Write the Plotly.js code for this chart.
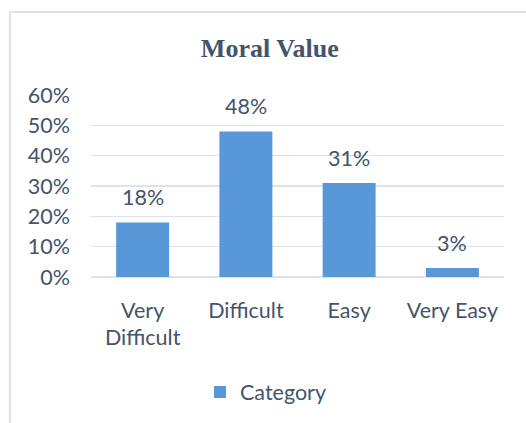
<!DOCTYPE html>
<html>
<head>
<meta charset="utf-8">
<script src="https://cdn.plot.ly/plotly-3.0.1.min.js"></script>
<style>
  html, body { margin: 0; padding: 0; background: #ffffff; }
  #wrap { position: relative; width: 526px; height: 423px; overflow: hidden; }
  #frame { position: absolute; left: 9px; top: 11px; width: 600px; height: 500px;
           border-top: 2px solid #dfe3e9; border-left: 2px solid #dfe3e9; }
  #chart { position: absolute; left: 0; top: 0; width: 526px; height: 423px; }
</style>
</head>
<body>
<div id="wrap">
  <div id="frame"></div>
  <div id="chart"></div>
</div>
<script>
const categories = ["Very<br>Difficult", "Difficult", "Easy", "Very Easy"];
const values = [0.18, 0.48, 0.31, 0.03];
const valueLabels = ["18%", "48%", "31%", "3%"];
const seriesName = "Category";
const chartTitle = "Moral Value";

const textColor = "#44546a";
const font = "Lato, 'Open Sans', sans-serif";
const fs = 21.5;

const trace = {
  type: "bar",
  x: categories,
  y: values,
  name: seriesName,
  marker: { color: "#5898d8" },
  showlegend: true,
  hoverinfo: "none"
};

const annotations = categories.map((c, i) => ({
  x: c, y: values[i], xref: "x", yref: "y",
  text: valueLabels[i], showarrow: false,
  yanchor: "middle", yshift: 25,
  font: { family: font, size: fs, color: textColor }
}));

const layout = {
  width: 526, height: 423,
  margin: { l: 91, r: 22, t: 95, b: 145 },
  paper_bgcolor: "rgba(0,0,0,0)",
  plot_bgcolor: "rgba(0,0,0,0)",
  title: {
    text: "<b>" + chartTitle + "</b>",
    font: { family: "'Liberation Serif', 'Times New Roman', serif", size: 26, color: textColor },
    x: 0.513, xref: "container", xanchor: "center",
    y: 1 - 48 / 423, yref: "container", yanchor: "middle"
  },
  bargap: 0.487,
  xaxis: {
    type: "category",
    showgrid: false, showline: false, zeroline: false, ticks: "",
    tickfont: { family: font, size: fs, color: textColor },
    ticklabelstandoff: 18
  },
  yaxis: {
    range: [0, 0.6], dtick: 0.1, tickformat: ".0%",
    showgrid: true, gridcolor: "#dfe3e9", gridwidth: 1.5,
    zeroline: true, zerolinecolor: "#dfe3e9", zerolinewidth: 1.5,
    showline: false, ticks: "",
    tickfont: { family: font, size: fs, color: textColor },
    ticklabelstandoff: 20
  },
  showlegend: true,
  legend: {
    orientation: "h", xanchor: "left", yanchor: "middle",
    x: (200 - 91) / 413, y: (278 - 392) / 183,
    font: { family: font, size: fs, color: textColor },
    bgcolor: "rgba(0,0,0,0)"
  },
  annotations: annotations
};

Plotly.newPlot("chart", [trace], layout, { staticPlot: true, displayModeBar: false });
</script>
</body>
</html>
